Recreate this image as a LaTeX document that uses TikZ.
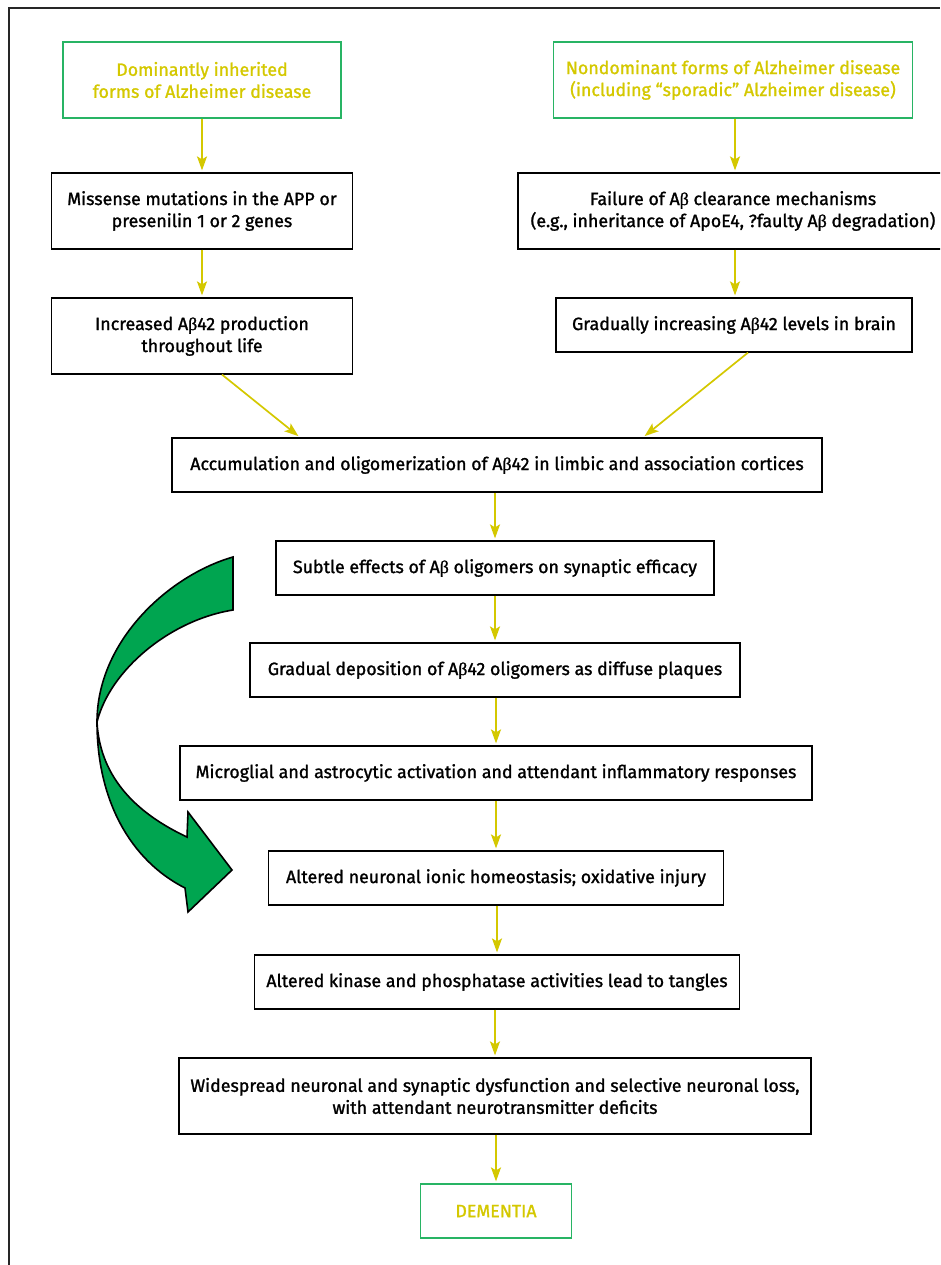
\documentclass[tikz,border=0pt]{standalone}
\usepackage{fontspec}
\setmainfont{Fira Sans}
\newfontfamily\boxfont{Fira Sans}[FakeBold=1.3]
\newfontfamily\grkfont{Liberation Serif}[FakeBold=1.3]
\usetikzlibrary{arrows.meta}

\newcommand{\Ab}{A{\grkfont β}}

\definecolor{adyellow}{RGB}{212,200,0}
\definecolor{adgreen}{RGB}{40,180,100}
\definecolor{adfill}{RGB}{0,165,80}

\tikzset{
  stepbox/.style={draw=black, line width=1.2pt, align=center, inner sep=0pt,
    font=\fontsize{17.8}{22}\selectfont\boxfont},
  sourcebox/.style={stepbox, draw=adgreen, text=adyellow},
  flow/.style={draw=adyellow, line width=1.7pt,
    -{Stealth[length=14pt,width=10pt,inset=3pt]}, shorten >=2pt},
}

\begin{document}
\begin{tikzpicture}[x=1pt, y=-1pt]
        \useasboundingbox (0,0) rectangle (940,1265);
        \clip (0,0) rectangle (940,1265);

        % Frame
        \draw[line width=1.5pt, black!85] (9,1265) -- (9,8) -- (940,8);

        % Left column
        \node[sourcebox, minimum width=278pt, minimum height=76pt] (dom) at (202,80)
          {Dominantly inherited\\forms of Alzheimer disease};
        \node[stepbox, minimum width=301pt, minimum height=76pt] (mis) at (202,211)
          {Missense mutations in the APP or\\presenilin 1 or 2 genes};
        \node[stepbox, minimum width=301pt, minimum height=76pt] (inc) at (202,336)
          {Increased \Ab42 production\\throughout life};

        % Right column
        \node[sourcebox, minimum width=359pt, minimum height=76pt] (nondom) at (733,80)
          {Nondominant forms of Alzheimer disease\\(including “sporadic” Alzheimer disease)};
        \node[stepbox, minimum width=430pt, minimum height=76pt] (fail) at (733,211)
          {Failure of \Ab{} clearance mechanisms\\(e.g., inheritance of ApoE4, ?faulty \Ab{} degradation)};
        \node[stepbox, minimum width=356pt, minimum height=54pt] (grad) at (734,325)
          {Gradually increasing \Ab42 levels in brain};

        % Common pathway
        \node[stepbox, minimum width=650pt, minimum height=54pt] (acc) at (497,465)
          {Accumulation and oligomerization of \Ab42 in limbic and association cortices};
        \node[stepbox, minimum width=438pt, minimum height=54pt] (sub) at (495,568)
          {Subtle effects of \Ab{} oligomers on synaptic efficacy};
        \node[stepbox, minimum width=490pt, minimum height=54pt] (dep) at (495,670)
          {Gradual deposition of \Ab42 oligomers as diffuse plaques};
        \node[stepbox, minimum width=632pt, minimum height=54pt] (mic) at (496,773)
          {Microglial and astrocytic activation and attendant inflammatory responses};
        \node[stepbox, minimum width=455pt, minimum height=54pt] (ion) at (496,878)
          {Altered neuronal ionic homeostasis; oxidative injury};
        \node[stepbox, minimum width=485pt, minimum height=54pt] (kin) at (497,982)
          {Altered kinase and phosphatase activities lead to tangles};
        \node[stepbox, minimum width=632pt, minimum height=76pt] (wide) at (495,1096)
          {Widespread neuronal and synaptic dysfunction and selective neuronal loss,\\with attendant neurotransmitter deficits};
        \node[sourcebox, minimum width=151pt, minimum height=54pt] (dem) at (496,1211)
          {DEMENTIA};

        % Arrows
        \foreach \a/\b in {dom/mis, mis/inc, acc/sub, sub/dep, dep/mic, mic/ion, ion/kin, kin/wide, wide/dem}
          \draw[flow] (\b.north |- \a.south) -- (\b.north);
        \draw[flow] ([xshift=2pt]nondom.south) -- ([xshift=2pt]nondom.south |- fail.north);
        \draw[flow] ([xshift=2pt]fail.south) -- ([xshift=2pt]fail.south |- grad.north);
        \draw[flow] ([xshift=20pt]inc.south) -- ([xshift=-197pt]acc.north);
        \draw[flow] ([xshift=14pt]grad.south) -- ([xshift=146pt]acc.north);

        % Twisted feedback arrow
        \filldraw[fill=adfill, draw=black, line width=1.6pt, line join=miter]
          (233,557) .. controls (170,575) and (97,640) .. (97,722)
          .. controls (97,800) and (130,860) .. (185,888)
          -- (188,912) -- (232,870) -- (188,812) -- (187,837)
          .. controls (140,815) and (100,780) .. (97,722)
          .. controls (110,670) and (170,620) .. (233,610) -- cycle;
\end{tikzpicture}
\end{document}
